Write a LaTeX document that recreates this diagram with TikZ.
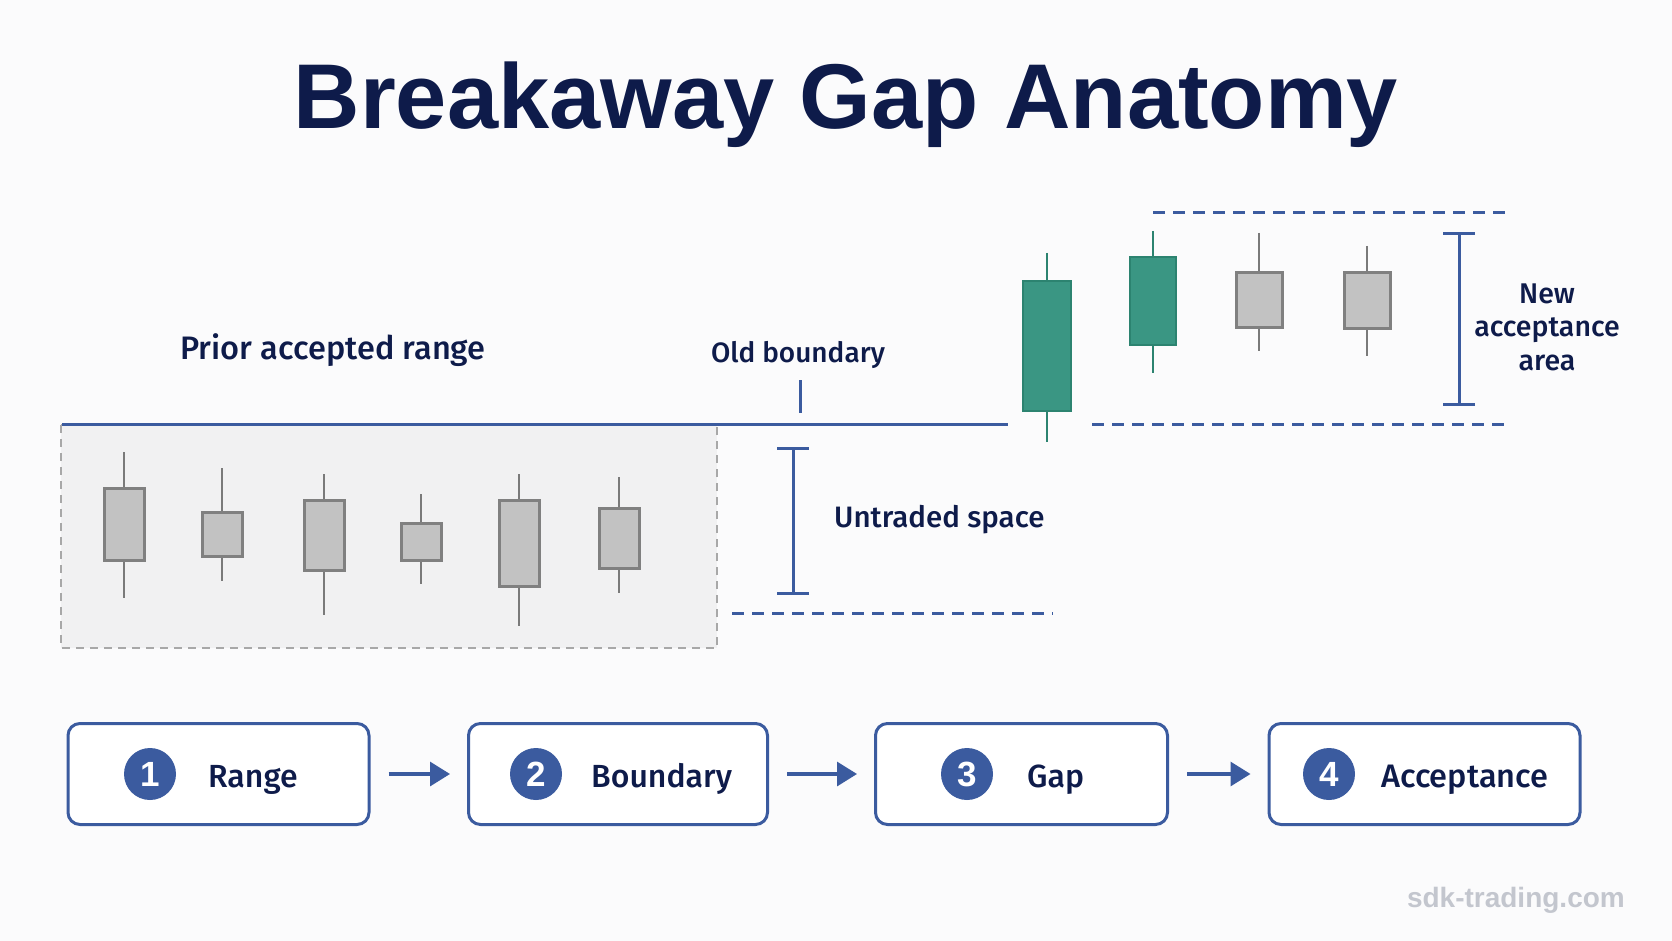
\documentclass[tikz,border=0pt]{standalone}
\usepackage{fontspec}
\setmainfont{Liberation Sans}
\newfontfamily\lab{Fira Sans Medium}
\usetikzlibrary{arrows.meta}
\definecolor{bg}{HTML}{FBFBFC}
\definecolor{navy}{HTML}{0E1B4A}
\definecolor{bblue}{HTML}{3B5B9F}
\definecolor{teal}{HTML}{3A9683}
\definecolor{tealdk}{HTML}{2C8370}
\definecolor{cfill}{HTML}{C2C2C2}
\definecolor{cedge}{HTML}{808080}
\definecolor{cwick}{HTML}{7A7A7A}
\definecolor{boxbg}{HTML}{F1F1F2}
\definecolor{boxedge}{HTML}{A8A8A8}
\definecolor{wm}{HTML}{C3C6CE}
\newcommand{\cndl}[7]{%
  \draw[#7wick] (#1,#2) -- (#1,#3);
  \draw[#7wick] (#1,#4) -- (#1,#5);
  \draw[#7body] (#1-#6,#3) rectangle (#1+#6,#4);}
\begin{document}
\begin{tikzpicture}[x=1pt,y=-1pt,
  gwick/.style={draw=cwick,line width=2.4pt},
  gbody/.style={draw=cedge,fill=cfill,line width=3pt},
  twick/.style={draw=tealdk,line width=2.6pt},
  tbody/.style={draw=tealdk,fill=teal,line width=2.4pt},
  bline/.style={draw=bblue,line width=3pt},
  bdash/.style={draw=bblue,line width=3pt,dash pattern=on 12pt off 8pt},
  rangebox/.style={draw=boxedge,fill=boxbg,line width=1.8pt,dash pattern=on 8pt off 6pt},
  bracket/.style={draw=bblue,line width=3pt,{Bar[width=32pt,line width=3pt]}-{Bar[width=32pt,line width=3pt]}},
  lbl/.style={text=navy,font=\lab\fontsize{31}{36}\selectfont,inner sep=0pt},
  stepbox/.style={draw=bblue,fill=white,line width=3pt,rounded corners=12pt,minimum height=101pt},
  numc/.style={circle,fill=bblue,minimum size=52pt,inner sep=0pt,text=white,font=\bfseries\fontsize{35}{35}\selectfont},
  steplab/.style={text=navy,font=\lab\fontsize{32}{36}\selectfont,inner sep=0pt},
  flow/.style={draw=bblue,line width=3.2pt,-{Triangle[length=20pt,width=24pt]},shorten <=18pt,shorten >=17pt}
]
\useasboundingbox[fill=bg] (0,0) rectangle (1672,941);
% title
\node[text=navy,font=\bfseries\fontsize{92}{100}\selectfont,anchor=base,inner sep=0pt] (title) at (846,129) {Breakaway Gap Anatomy};
% prior range box
\draw[rangebox] (61,425) rectangle (717,648);
\cndl{124}{452}{488}{560}{598}{20}{g}
\cndl{222}{468}{512}{556}{581}{20}{g}
\cndl{324}{474}{500}{570}{615}{20}{g}
\cndl{421}{494}{523}{560}{584}{20}{g}
\cndl{519}{474}{500}{586}{626}{20}{g}
\cndl{619}{477}{508}{568}{593}{20}{g}
% old boundary line
\coordinate (bl1) at (62,424);
\coordinate (bl2) at (1008,424);
\draw[bline] (bl1) -- (bl2);
\coordinate (tickT) at (800,380);
\coordinate (tickB) at (800,413);
\draw[bline] (tickT) -- (tickB);
\node[lbl,anchor=base,font=\lab\fontsize{32.5}{36}\selectfont] (prior) at (333,359) {Prior accepted range};
\node[lbl,anchor=base,font=\lab\fontsize{28}{34}\selectfont] (old) at (798,362) {Old boundary};
% untraded space
\coordinate (u1) at (793,447);
\coordinate (u2) at (793,595);
\draw[bracket] (u1) -- (u2);
\node[lbl,anchor=base west,font=\lab\fontsize{29.5}{34}\selectfont] (untr) at (834,527) {Untraded space};
\coordinate (ud1) at (732,613);
\coordinate (ud2) at (1053,613);
\draw[bdash] (ud1) -- (ud2);
% gap candles
\cndl{1047}{253}{281}{411}{442}{24}{t}
\cndl{1153}{231}{257}{345}{373}{23}{t}
\cndl{1259}{233}{272}{327}{351}{23}{g}
\cndl{1367}{246}{272}{328}{356}{23}{g}
% acceptance area
\coordinate (ta1) at (1153,213);
\coordinate (ta2) at (1506,213);
\draw[bdash] (ta1) -- (ta2);
\coordinate (ba1) at (1092,424);
\coordinate (ba2) at (1506,424);
\draw[bdash] (ba1) -- (ba2);
\coordinate (n1) at (1459,232);
\coordinate (n2) at (1459,406);
\draw[bracket] (n1) -- (n2);
\node[lbl,anchor=base,font=\lab\fontsize{28.5}{34}\selectfont] (na1) at (1547,303) {New};
\node[lbl,anchor=base,font=\lab\fontsize{28.5}{34}\selectfont] (na2) at (1547,336) {acceptance};
\node[lbl,anchor=base,font=\lab\fontsize{28.5}{34}\selectfont] (na3) at (1547,370) {area};
% steps
\node[stepbox,minimum width=301pt] (s1) at (218.5,774) {};
\node[stepbox,minimum width=299pt] (s2) at (618,774) {};
\node[stepbox,minimum width=292pt] (s3) at (1021.5,774) {};
\node[stepbox,minimum width=311pt] (s4) at (1424.5,774) {};
\node[numc] (c1) at (150,774) {1};
\node[numc] (c2) at (536,774) {2};
\node[numc] (c3) at (967,774) {3};
\node[numc] (c4) at (1329,774) {4};
\node[steplab,anchor=base west] (t1) at (208,787) {Range};
\node[steplab,anchor=base west] (t2) at (591,787) {Boundary};
\node[steplab,anchor=base west] (t3) at (1027,787) {Gap};
\node[steplab,anchor=base west,font=\lab\fontsize{32.5}{36}\selectfont] (t4) at (1381,787) {Acceptance};
\draw[flow] (s1) -- (s2);
\draw[flow] (s2) -- (s3);
\draw[flow] (s3) -- (s4);
% watermark
\node[text=wm,font=\bfseries\fontsize{28}{30}\selectfont,anchor=base east,inner sep=0pt] (wmk) at (1625,907) {sdk-trading.com};
\end{tikzpicture}
\end{document}
